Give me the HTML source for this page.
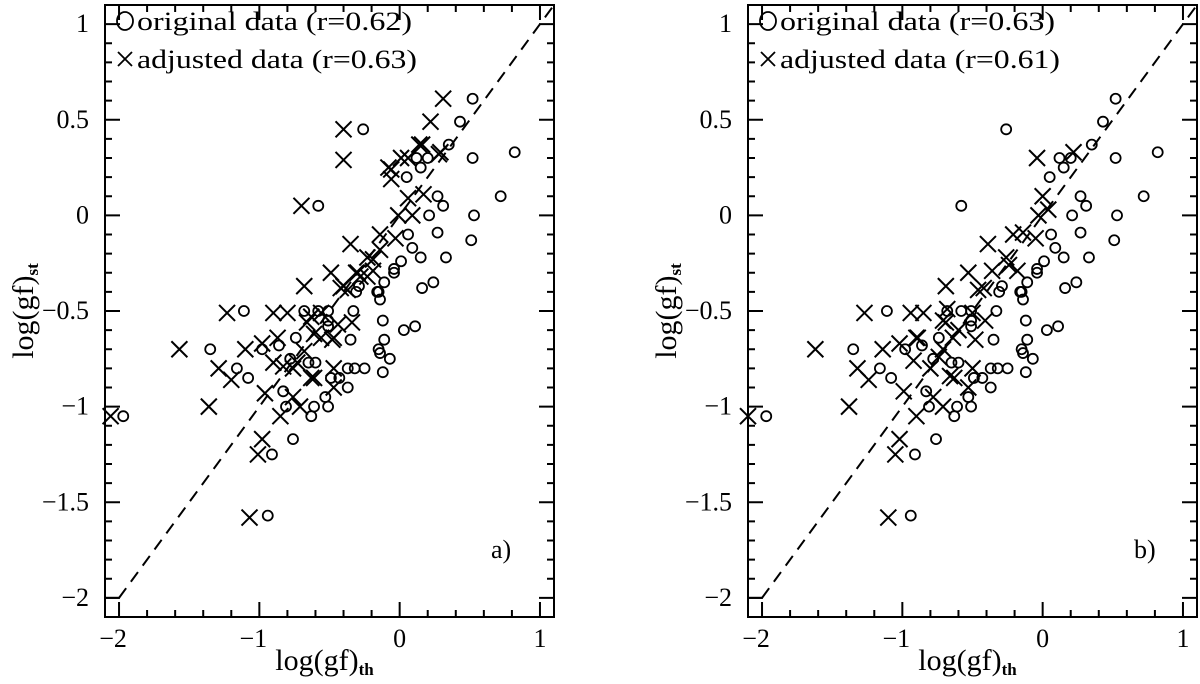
<!DOCTYPE html>
<html><head><meta charset="utf-8"><style>
html,body{margin:0;padding:0;background:#fff;}
svg{display:block;font-family:"Liberation Serif",serif;}
</style></head>
<body>
<svg id="chart" width="1200" height="684" viewBox="0 0 1200 684" xmlns="http://www.w3.org/2000/svg"></svg>
<script>
// Original data (same in both panels)
const origX = [0.52,0.43,0.35,0.52,0.82,0.20,0.15,0.27,0.31,0.72,0.21,0.53,0.27,0.51,0.15,0.33,0.12,0.05,0.06,0.09,0.01,-0.04,0.24,0.16,-0.11,-0.15,-0.26,-0.58,
-1.11,-1.35,-1.16,-1.08,-0.98,-0.86,-0.74,-0.68,-0.58,-0.51,-0.51,-0.33,-0.35,-0.51,-0.83,-0.81,-0.78,-0.65,-0.60,-0.63,-0.61,-0.51,-0.53,-0.49,-0.43,-0.37,-0.32,-0.25,-0.37,-0.12,-0.15,-0.14,-0.07,-0.11,-0.12,0.03,0.11,-0.14,-0.16,-0.29,-0.31,-0.04,-0.76,-1.97,-0.94,-0.91];
const origY = [0.61,0.49,0.37,0.30,0.33,0.30,0.25,0.10,0.05,0.10,0.00,0.00,-0.09,-0.13,-0.22,-0.22,0.30,0.20,-0.10,-0.17,-0.24,-0.28,-0.35,-0.38,-0.35,-0.40,0.45,0.05,
-0.50,-0.70,-0.80,-0.85,-0.70,-0.68,-0.64,-0.50,-0.50,-0.50,-0.55,-0.50,-0.65,-0.58,-0.92,-1.00,-0.75,-0.77,-0.77,-1.05,-1.00,-1.00,-0.95,-0.85,-0.85,-0.80,-0.80,-0.80,-0.90,-0.82,-0.70,-0.72,-0.75,-0.65,-0.55,-0.60,-0.58,-0.44,-0.40,-0.37,-0.40,-0.30,-1.17,-1.05,-1.57,-1.25];
// Adjusted data, panel a
const adjAX = [-1.23,-1.57,-2.06,-1.36,-1.29,-1.20,-1.10,-0.98,-0.90,-0.80,-0.68,-0.87,-0.90,-0.96,-0.85,-0.98,-1.01,-1.07,-0.76,-0.71,-0.73,-0.68,-0.63,-0.61,-0.66,-0.56,-0.47,-0.47,-0.47,
-0.42,-0.37,-0.49,-0.30,-0.23,-0.63,-0.56,-0.44,-0.34,-0.61,-0.48,-0.83,-0.76,
-0.40,-0.06,0.01,0.06,0.28,-0.06,0.06,0.17,0.09,-0.01,-0.14,-0.03,-0.35,-0.19,-0.23,-0.14,-0.31,-0.19,-0.40,-0.28,
0.31,0.22,0.29,0.16,-0.40,-0.70,-0.08,0.14];
const adjAY = [-0.51,-0.70,-1.05,-1.00,-0.80,-0.86,-0.70,-0.67,-0.51,-0.51,-0.37,-0.64,-0.77,-0.93,-1.05,-1.17,-1.25,-1.58,-0.95,-1.00,-0.77,-0.71,-0.85,-0.85,-0.56,-0.64,-0.64,-0.80,-0.90,
-0.38,-0.39,-0.30,-0.30,-0.32,-0.53,-0.51,-0.57,-0.56,-0.62,-0.65,-0.79,-0.80,
0.29,0.24,0.30,0.30,0.32,0.19,0.09,0.11,0.00,0.00,-0.10,-0.12,-0.15,-0.23,-0.22,-0.18,-0.30,-0.29,-0.37,-0.32,
0.61,0.49,0.33,0.37,0.45,0.05,0.25,0.37];
// Adjusted data, panel b
const adjBX = [-1.62,-1.38,-2.10,-1.32,-1.24,-1.14,-1.02,-0.90,-0.99,-0.90,-1.02,-1.05,-1.10,-0.92,-0.78,-0.71,-0.80,-0.71,-0.64,-0.66,-0.63,-0.50,-0.53,-0.48,-0.69,-0.74,
-1.27,-0.94,-0.85,-0.69,-0.53,-0.39,-0.36,-0.46,-0.42,-0.68,-0.71,-0.60,-0.50,-0.41,-0.26,-0.21,-0.24,-0.18,-0.14,-0.05,-0.03,0.00,-0.04,-0.89,0.22,0.04];
const adjBY = [-0.70,-1.00,-1.05,-0.80,-0.86,-0.70,-0.67,-0.64,-0.92,-1.05,-1.17,-1.25,-1.58,-0.76,-0.95,-1.00,-0.80,-0.70,-0.64,-0.84,-0.85,-0.80,-0.90,-0.65,-0.56,-0.74,
-0.51,-0.51,-0.51,-0.37,-0.30,-0.15,-0.29,-0.39,-0.38,-0.49,-0.55,-0.60,-0.51,-0.55,-0.22,-0.10,-0.26,-0.29,-0.09,-0.12,0.00,0.10,0.30,-0.64,0.33,0.03];
const xTicks = [-2,-1,0,1];
const xTickLabels = ["\u22122","\u22121","0","1"];
const yTicks = [1,0.5,0,-0.5,-1,-1.5,-2];
const yTickLabels = ["1","0.5","0","\u22120.5","\u22121","\u22121.5","\u22122"];
const rOrig = ["0.62","0.63"];
const rAdj = ["0.63","0.61"];
const panelLabels = ["a)","b)"];

const NS="http://www.w3.org/2000/svg";
const svg=document.getElementById('chart');
function mk(tag,attrs,parent){const e=document.createElementNS(NS,tag);for(const k in attrs)e.setAttribute(k,attrs[k]);(parent||svg).appendChild(e);return e;}

const panels=[{left:105,right:554,adjX:adjAX,adjY:adjAY},{left:748,right:1197,adjX:adjBX,adjY:adjBY}];
const plotTop=5,plotBottom=617,xmin=-2.1,xmax=1.1,ymin=-2.1,ymax=1.1;

panels.forEach((p,pi)=>{
  const g=mk('g',{});
  
  
  const sx=v=>p.left+(v-xmin)/(xmax-xmin)*(p.right-p.left);
  const sy=v=>plotBottom-(v-ymin)/(ymax-ymin)*(plotBottom-plotTop);
  const frame=mk('rect',{x:p.left,y:plotTop,width:p.right-p.left,height:plotBottom-plotTop,fill:'none',stroke:'#000','stroke-width':2},g);
  
  
  for(let i=-10;i<=5;i++){const v=i*0.2;if(v<xmin-1e-9||v>xmax+1e-9)continue;
    const major=Math.abs(v-Math.round(v))<1e-9;const L=major?15:7;const X=sx(v);
    mk('line',{x1:X,y1:plotBottom,x2:X,y2:plotBottom-L,stroke:'#000','stroke-width':2},g);
    mk('line',{x1:X,y1:plotTop,x2:X,y2:plotTop+L,stroke:'#000','stroke-width':2},g);}
  for(let i=-21;i<=11;i++){const v=i*0.1;const major=Math.abs(v*2-Math.round(v*2))<1e-9;const L=major?15:7;const Y=sy(v);
    mk('line',{x1:p.left,y1:Y,x2:p.left+L,y2:Y,stroke:'#000','stroke-width':2},g);
    mk('line',{x1:p.right,y1:Y,x2:p.right-L,y2:Y,stroke:'#000','stroke-width':2},g);}
  xTicks.forEach((v,i)=>{const t=mk('text',{x:sx(v)-(v<0?6:0),y:647,'font-size':26,'text-anchor':'middle'},g);t.textContent=xTickLabels[i];
    
    });
  yTicks.forEach((v,i)=>{const t=mk('text',{x:p.left-16,y:sy(v)+8,'font-size':26,'text-anchor':'end'},g);t.textContent=yTickLabels[i];
    
    });
  const d=mk('line',{x1:sx(-2),y1:sy(-2),x2:sx(1.1),y2:sy(1.1),stroke:'#000','stroke-width':2,'stroke-dasharray':'12,8'},g);
  
  
  mk('line',{x1:p.left,y1:sy(-2),x2:sx(-2),y2:sy(-2),stroke:'#000','stroke-width':2},g);
  origX.forEach((x,i)=>{const c=mk('circle',{cx:sx(x),cy:sy(origY[i]),r:5,fill:'none',stroke:'#000','stroke-width':1.8},g);
    
    });
  p.adjX.forEach((x,i)=>{const X=sx(x),Y=sy(p.adjY[i]),s=8;
    const m=mk('path',{d:`M${X-s},${Y-s}L${X+s},${Y+s}M${X-s},${Y+s}L${X+s},${Y-s}`,stroke:'#000','stroke-width':2,fill:'none'},g);
    
    });
  const lg=mk('g',{},g);
  
  
  const lx=p.left+20;
  mk('ellipse',{cx:lx,cy:21,rx:8,ry:9,fill:'none',stroke:'#000','stroke-width':1.8},lg);
  const t1=mk('text',{x:lx+12,y:30,'font-size':26,textLength:275,lengthAdjust:'spacingAndGlyphs'},lg);t1.textContent='original  data  (r='+rOrig[pi]+')';
  mk('path',{d:`M${lx-7},${52}L${lx+7},${66}M${lx-7},${66}L${lx+7},${52}`,stroke:'#000','stroke-width':1.8},lg);
  const t2=mk('text',{x:lx+12,y:68,'font-size':26,textLength:280,lengthAdjust:'spacingAndGlyphs'},lg);t2.textContent='adjusted  data  (r='+rAdj[pi]+')';
  const pl=mk('text',{x:p.right-63,y:558,'font-size':26},g);pl.textContent=panelLabels[pi];
  
  
  const xt=mk('text',{x:(p.left+p.right)/2-5,y:670,'font-size':30,'text-anchor':'middle'},g);
  xt.innerHTML='log(gf)<tspan font-size="17" font-weight="bold" dy="5">th</tspan>';
  
  
  const cx=p.left-72,cy=311;
  const yt=mk('text',{x:cx,y:cy,'font-size':30,'text-anchor':'middle',transform:`rotate(-90 ${cx} ${cy})`},g);
  yt.innerHTML='log(gf)<tspan font-size="17" font-weight="bold" dy="5">st</tspan>';
  
  
});
</script>
</body></html>
